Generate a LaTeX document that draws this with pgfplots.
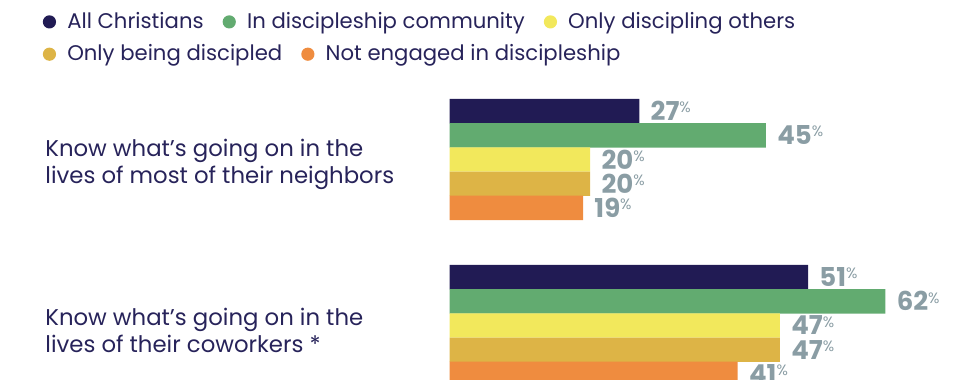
\documentclass[border=0pt]{standalone}
\usepackage{fontspec}
\setmainfont{Poppins}
\usepackage{pgfplots}
\pgfplotsset{compat=1.18}
\definecolor{cNavy}{HTML}{211B54}
\definecolor{cGreen}{HTML}{62AB70}
\definecolor{cYellow}{HTML}{F2E85C}
\definecolor{cGold}{HTML}{DDB446}
\definecolor{cOrange}{HTML}{EF8C3F}
\definecolor{cText}{HTML}{27235A}
\definecolor{cVal}{HTML}{8A9DA4}
\pgfplotsset{
  dotlegend/.style={
    legend image code/.code={\fill[##1,draw=none] (3.3pt,0.33em) circle (3.3pt);},
    legend style={draw=none, fill=none, font=\fontsize{10.6}{12}\selectfont\color{cText},
      nodes={inner sep=0pt, anchor=base west},
      /tikz/every odd column/.style={column sep=5.6pt},
      /tikz/every even column/.style={column sep=9.5pt}},
  },
}
\begin{document}
\begin{tikzpicture}
\begin{axis}[
  name=ax,
  scale only axis, width=490pt, height=190pt,
  xmin=-63.94, xmax=75.46, ymin=0, ymax=380, y dir=reverse,
  axis lines=none, ticks=none, clip=true,
  xbar, bar width=24.4, bar shift=0,
  point meta=explicit symbolic,
  nodes near coords={\textbf{\pgfplotspointmeta}\raisebox{0.55ex}{\fontsize{7.5}{7.5}\selectfont\%}},
  every node near coord/.style={font=\fontsize{13}{13}\selectfont, color=cVal, anchor=west, inner sep=0pt, xshift=5.5pt},
  dotlegend,
  legend columns=3,
  legend style={at={(rel axis cs:0.0372,0.925)}, anchor=base west},
]
\addplot[fill=cNavy, draw=none] coordinates {(27,111.1)[27] (51,277.1)[51]};
\addplot[fill=cGreen, draw=none] coordinates {(45,135.3)[45] (62,301.3)[62]};
\addplot[fill=cYellow, draw=none] coordinates {(20,159.5)[20] (47,325.5)[47]};
\addplot[fill=cGold, draw=none, forget plot] coordinates {(20,183.7)[20] (47,349.7)[47]};
\addplot[fill=cOrange, draw=none, forget plot] coordinates {(19,207.9)[19] (41,373.9)[41]};
\legend{All Christians, In discipleship community, Only discipling others}
\node[anchor=west, align=left, font=\fontsize{11.4}{13.5}\selectfont, text=cText, inner sep=0pt] at (axis cs:-57.54,164) {Know what’s going on in the\\lives of most of their neighbors};
\node[anchor=west, align=left, font=\fontsize{11.4}{13.5}\selectfont, text=cText, inner sep=0pt] at (axis cs:-57.54,330) {Know what’s going on in the\\lives of their coworkers *};
\end{axis}
\begin{axis}[
  scale only axis, width=490pt, height=190pt,
  xmin=0, xmax=1, ymin=0, ymax=1,
  axis lines=none, ticks=none,
  dotlegend,
  legend columns=2,
  legend style={at={(rel axis cs:0.0372,0.84)}, anchor=base west},
]
\addlegendimage{fill=cGold}
\addlegendentry{Only being discipled}
\addlegendimage{fill=cOrange}
\addlegendentry{Not engaged in discipleship}
\end{axis}
\pgfresetboundingbox
\useasboundingbox (0,0) rectangle (490pt,190pt);
\end{tikzpicture}
\end{document}
